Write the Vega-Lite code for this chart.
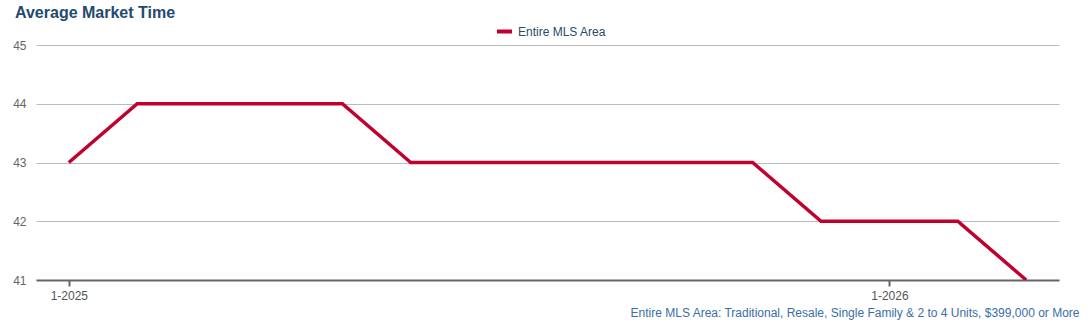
{
  "$schema": "https://vega.github.io/schema/vega-lite/v6.json",
  "width": 1023,
  "height": 235,
  "autosize": {"type": "none"},
  "padding": {"left": 36, "top": 45, "right": 29, "bottom": 42},
  "background": "white",
  "title": {
    "text": "Average Market Time",
    "anchor": "start",
    "frame": "group",
    "dx": -21,
    "offset": 1,
    "font": "Liberation Sans",
    "fontSize": 16,
    "fontWeight": "bold",
    "color": "#234a6e"
  },
  "config": {
    "view": {"stroke": null},
    "font": "Liberation Sans"
  },
  "data": {
    "values": [
      {"month": "1-2025", "series": "Entire MLS Area", "days": 43},
      {"month": "2-2025", "series": "Entire MLS Area", "days": 44},
      {"month": "3-2025", "series": "Entire MLS Area", "days": 44},
      {"month": "4-2025", "series": "Entire MLS Area", "days": 44},
      {"month": "5-2025", "series": "Entire MLS Area", "days": 44},
      {"month": "6-2025", "series": "Entire MLS Area", "days": 43},
      {"month": "7-2025", "series": "Entire MLS Area", "days": 43},
      {"month": "8-2025", "series": "Entire MLS Area", "days": 43},
      {"month": "9-2025", "series": "Entire MLS Area", "days": 43},
      {"month": "10-2025", "series": "Entire MLS Area", "days": 43},
      {"month": "11-2025", "series": "Entire MLS Area", "days": 43},
      {"month": "12-2025", "series": "Entire MLS Area", "days": 42},
      {"month": "1-2026", "series": "Entire MLS Area", "days": 42},
      {"month": "2-2026", "series": "Entire MLS Area", "days": 42},
      {"month": "3-2026", "series": "Entire MLS Area", "days": 41}
    ]
  },
  "mark": {"type": "line", "strokeWidth": 3.5, "clip": true},
  "encoding": {
    "x": {
      "field": "month",
      "type": "ordinal",
      "sort": null,
      "scale": {"type": "point", "padding": 0.48},
      "axis": {
        "values": ["1-2025", "1-2026"],
        "labelAngle": 0,
        "labelFontSize": 12,
        "labelColor": "#555555",
        "labelPadding": 4,
        "tickColor": "#666666",
        "tickSize": 6,
        "tickWidth": 2,
        "domainColor": "#666666",
        "domainWidth": 2,
        "grid": false,
        "title": "Entire MLS Area: Traditional, Resale, Single Family & 2 to 4 Units, $399,000 or More",
        "titleFontSize": 12,
        "titleFontWeight": "normal",
        "titleColor": "#3a6ea5",
        "titleAnchor": "end",
        "titleAlign": "right",
        "titleX": 1043,
        "titleY": 36,
        "titleBaseline": "alphabetic"
      }
    },
    "y": {
      "field": "days",
      "type": "quantitative",
      "scale": {"domain": [41, 45], "nice": false, "zero": false},
      "axis": {
        "values": [41, 42, 43, 44, 45],
        "format": "d",
        "title": null,
        "domain": false,
        "ticks": false,
        "labelPadding": 10,
        "labelFontSize": 12,
        "labelColor": "#666666",
        "gridColor": "#bbbbbb",
        "gridWidth": 1
      }
    },
    "color": {
      "field": "series",
      "type": "nominal",
      "scale": {"range": ["#c0002f"]},
      "legend": {
        "title": null,
        "orient": "none",
        "legendX": 459,
        "legendY": -23,
        "symbolType": "stroke",
        "symbolStrokeWidth": 4,
        "symbolSize": 225,
        "labelFontSize": 12,
        "labelColor": "#2b4a6b",
        "labelOffset": 4
      }
    }
  }
}
